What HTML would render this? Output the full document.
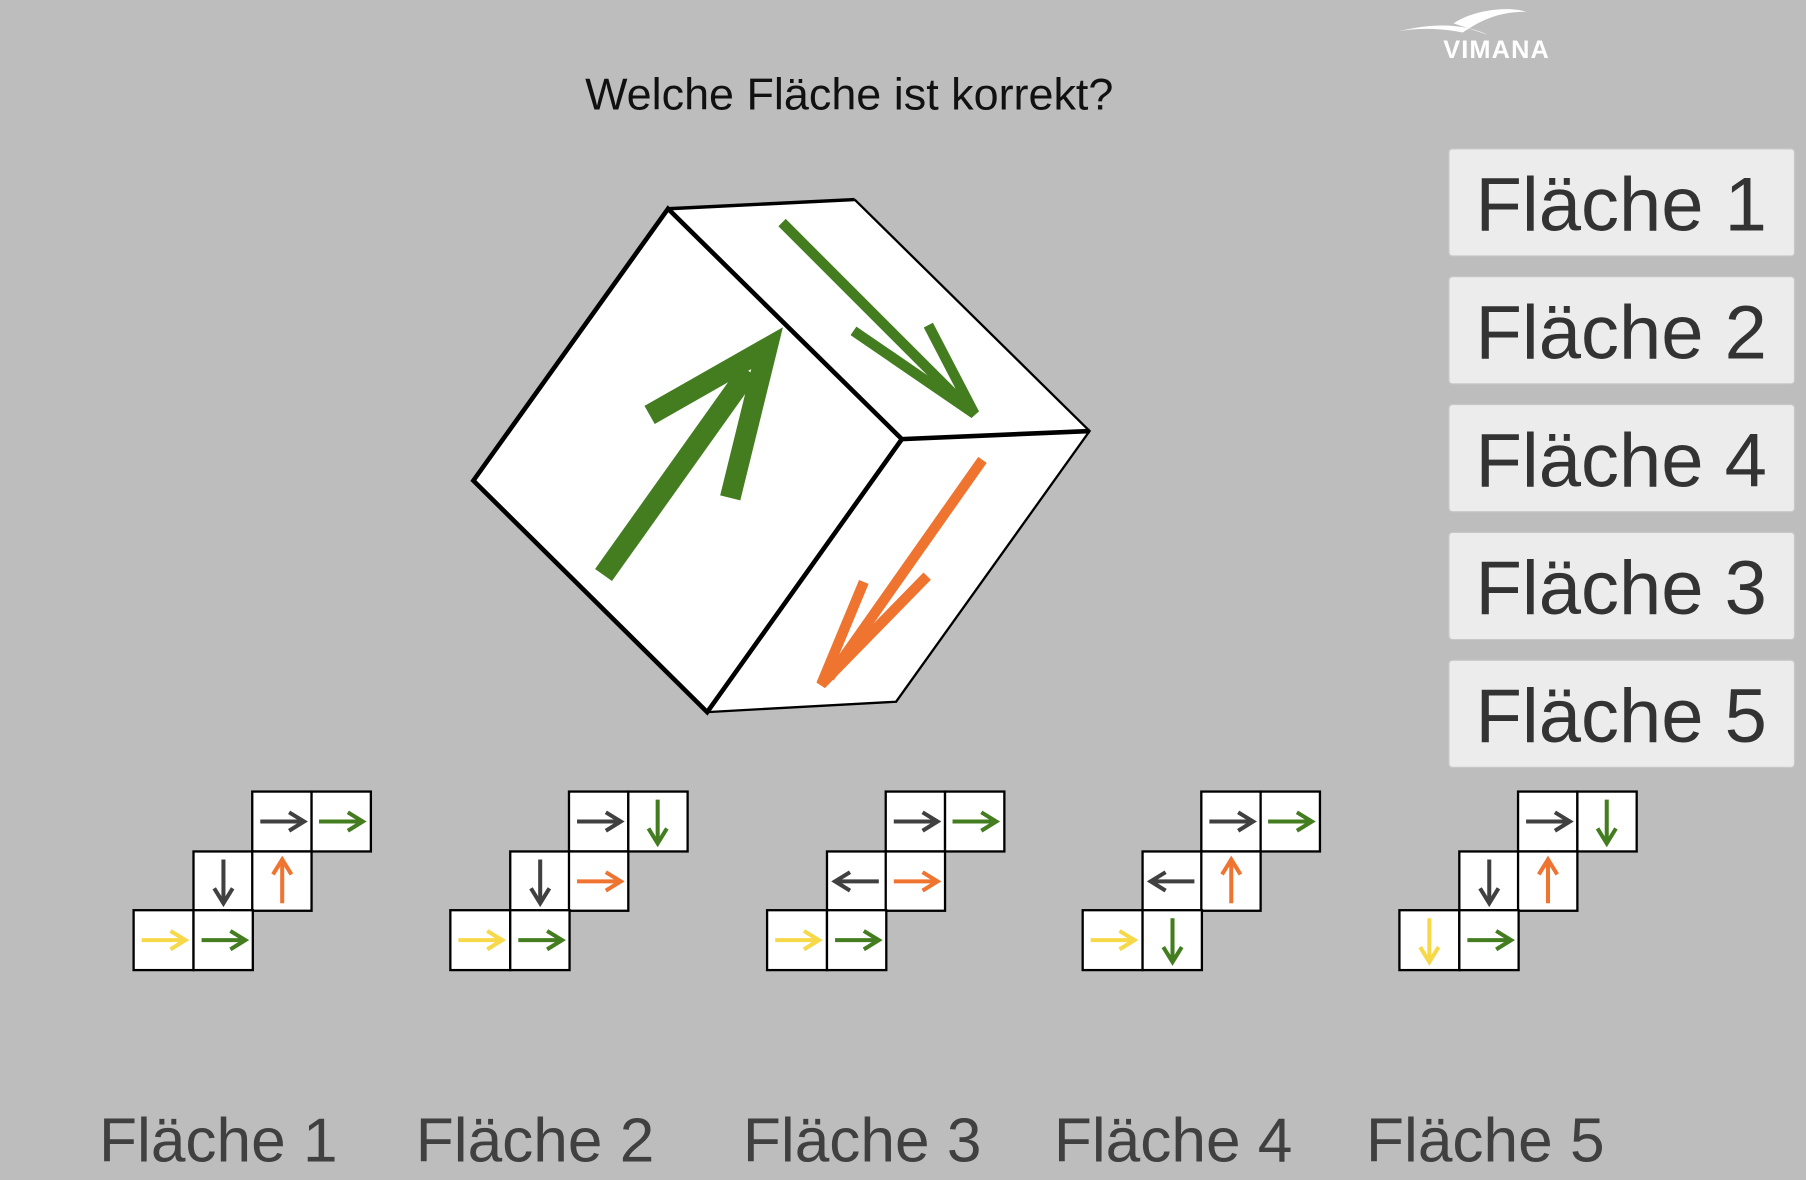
<!DOCTYPE html>
<html><head><meta charset="utf-8"><style>
html,body{margin:0;padding:0;background:#bdbdbd;}
svg{display:block;}
text{font-family:"Liberation Sans",sans-serif;}
</style></head><body>
<svg width="1806" height="1180" viewBox="0 0 1568 1024" xmlns="http://www.w3.org/2000/svg">
<defs>
<g id="ar"><line x1="-19" y1="0" x2="18" y2="0" stroke-width="3.5"/><polyline points="6,-8 19,0 6,8" fill="none" stroke-width="3.5"/></g>
</defs>
<rect width="1568" height="1024" fill="#bdbdbd"/>
<!-- logo -->
<path d="M1214,27 C1250,18 1275,22 1292,30 L1262,20 C1280,8 1310,5 1325,10 C1300,10 1285,18 1270,28 C1250,24 1230,24 1214,27Z" fill="#fff"/>
<text x="1253" y="50" font-size="22" font-weight="bold" fill="#fff" letter-spacing="1">VIMANA</text>
<text x="508" y="95" font-size="39" fill="#111">Welche Fläche ist korrekt?</text>
<!-- cube -->
<polygon points="580,181 742,173 946,374 778,609 614,618 411,417" fill="#fff"/>
<polyline points="742,173 946,374 778,609 614,618" fill="none" stroke="#000" stroke-width="2"/>
<line x1="580" y1="181" x2="742" y2="173" stroke="#000" stroke-width="3"/>
<polygon points="580,181 783,381 614,618 411,417" fill="none" stroke="#000" stroke-width="4"/>
<line x1="783" y1="381" x2="946" y2="374" stroke="#000" stroke-width="4"/>
<g stroke="#437d20" fill="none" stroke-linejoin="miter">
<line x1="524" y1="499" x2="650" y2="322" stroke-width="18"/>
<polyline points="564,360 666,302 634,432" stroke-width="18"/>
<line x1="679" y1="193" x2="838" y2="352" stroke-width="9"/>
<polyline points="741,287 846,359 806,282" stroke-width="9"/>
</g>
<g stroke="#ee7430" fill="none">
<line x1="853" y1="399" x2="720" y2="588" stroke-width="9"/>
<polyline points="750,505 713,594 805,500" stroke-width="9"/>
</g>
<!-- buttons -->
<g font-size="66" fill="#333">
<rect x="1258" y="129" width="300" height="93" fill="#ececec" stroke="#c8c8c8" rx="3"/><text x="1281" y="200">Fläche 1</text>
<rect x="1258" y="240" width="300" height="93" fill="#ececec" stroke="#c8c8c8" rx="3"/><text x="1281" y="311">Fläche 2</text>
<rect x="1258" y="351" width="300" height="93" fill="#ececec" stroke="#c8c8c8" rx="3"/><text x="1281" y="422">Fläche 4</text>
<rect x="1258" y="462" width="300" height="93" fill="#ececec" stroke="#c8c8c8" rx="3"/><text x="1281" y="533">Fläche 3</text>
<rect x="1258" y="573" width="300" height="93" fill="#ececec" stroke="#c8c8c8" rx="3"/><text x="1281" y="644">Fläche 5</text>
</g>
<g id="nets" stroke="#000" stroke-width="2" fill="#fff">
<g transform="translate(116,0)">
<rect x="103" y="687" width="51.5" height="52"/><rect x="154.5" y="687" width="51.5" height="52"/>
<rect x="52" y="739" width="51.5" height="51.5"/><rect x="103" y="739" width="51.5" height="51.5"/>
<rect x="0" y="790" width="52" height="52"/><rect x="52" y="790" width="51.5" height="52"/>
<use href="#ar" x="129" y="713" stroke="#404040"/><use href="#ar" x="180" y="713" stroke="#437d20"/>
<use href="#ar" transform="translate(78,765) rotate(90)" stroke="#404040"/><use href="#ar" transform="translate(129,765) rotate(-90)" stroke="#ee7430"/>
<use href="#ar" x="26" y="816" stroke="#f7d848"/><use href="#ar" x="78" y="816" stroke="#437d20"/>
</g>
<g transform="translate(391,0)">
<rect x="103" y="687" width="51.5" height="52"/><rect x="154.5" y="687" width="51.5" height="52"/>
<rect x="52" y="739" width="51.5" height="51.5"/><rect x="103" y="739" width="51.5" height="51.5"/>
<rect x="0" y="790" width="52" height="52"/><rect x="52" y="790" width="51.5" height="52"/>
<use href="#ar" x="129" y="713" stroke="#404040"/><use href="#ar" transform="translate(180,713) rotate(90)" stroke="#437d20"/>
<use href="#ar" transform="translate(78,765) rotate(90)" stroke="#404040"/><use href="#ar" x="129" y="765" stroke="#ee7430"/>
<use href="#ar" x="26" y="816" stroke="#f7d848"/><use href="#ar" x="78" y="816" stroke="#437d20"/>
</g>
<g transform="translate(666,0)">
<rect x="103" y="687" width="51.5" height="52"/><rect x="154.5" y="687" width="51.5" height="52"/>
<rect x="52" y="739" width="51.5" height="51.5"/><rect x="103" y="739" width="51.5" height="51.5"/>
<rect x="0" y="790" width="52" height="52"/><rect x="52" y="790" width="51.5" height="52"/>
<use href="#ar" x="129" y="713" stroke="#404040"/><use href="#ar" x="180" y="713" stroke="#437d20"/>
<use href="#ar" transform="translate(78,765) rotate(180)" stroke="#404040"/><use href="#ar" x="129" y="765" stroke="#ee7430"/>
<use href="#ar" x="26" y="816" stroke="#f7d848"/><use href="#ar" x="78" y="816" stroke="#437d20"/>
</g>
<g transform="translate(940,0)">
<rect x="103" y="687" width="51.5" height="52"/><rect x="154.5" y="687" width="51.5" height="52"/>
<rect x="52" y="739" width="51.5" height="51.5"/><rect x="103" y="739" width="51.5" height="51.5"/>
<rect x="0" y="790" width="52" height="52"/><rect x="52" y="790" width="51.5" height="52"/>
<use href="#ar" x="129" y="713" stroke="#404040"/><use href="#ar" x="180" y="713" stroke="#437d20"/>
<use href="#ar" transform="translate(78,765) rotate(180)" stroke="#404040"/><use href="#ar" transform="translate(129,765) rotate(-90)" stroke="#ee7430"/>
<use href="#ar" x="26" y="816" stroke="#f7d848"/><use href="#ar" transform="translate(78,816) rotate(90)" stroke="#437d20"/>
</g>
<g transform="translate(1215,0)">
<rect x="103" y="687" width="51.5" height="52"/><rect x="154.5" y="687" width="51.5" height="52"/>
<rect x="52" y="739" width="51.5" height="51.5"/><rect x="103" y="739" width="51.5" height="51.5"/>
<rect x="0" y="790" width="52" height="52"/><rect x="52" y="790" width="51.5" height="52"/>
<use href="#ar" x="129" y="713" stroke="#404040"/><use href="#ar" transform="translate(180,713) rotate(90)" stroke="#437d20"/>
<use href="#ar" transform="translate(78,765) rotate(90)" stroke="#404040"/><use href="#ar" transform="translate(129,765) rotate(-90)" stroke="#ee7430"/>
<use href="#ar" transform="translate(26,816) rotate(90)" stroke="#f7d848"/><use href="#ar" x="78" y="816" stroke="#437d20"/>
</g>
</g>
<g font-size="54" fill="#404040">
<text x="86" y="1008">Fläche 1</text>
<text x="361" y="1008">Fläche 2</text>
<text x="645" y="1008">Fläche 3</text>
<text x="915" y="1008">Fläche 4</text>
<text x="1186" y="1008">Fläche 5</text>
</g>
</svg>
</body></html>
